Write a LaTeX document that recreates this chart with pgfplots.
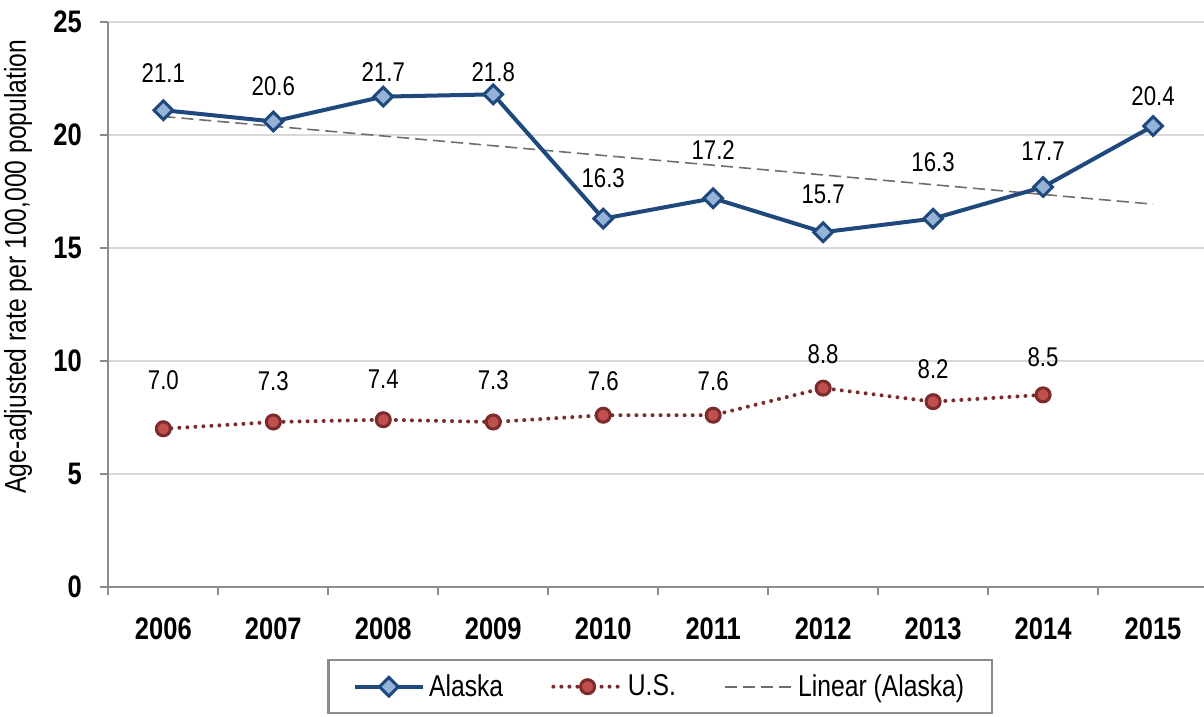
\documentclass[border=0pt]{standalone}
\usepackage{pgfplots}
\usepackage{pgfplotstable}
\pgfplotsset{compat=1.18}
\usepackage{fontspec}
\setmainfont{Liberation Sans}[FakeStretch=0.82]
\definecolor{akline}{HTML}{1F497D}
\definecolor{akfill}{HTML}{95B3D7}
\definecolor{usline}{HTML}{7B2B2B}
\definecolor{usfill}{HTML}{C0504D}
\definecolor{gridc}{HTML}{D9D9D9}
\definecolor{axisc}{HTML}{8C8C8C}
\definecolor{trendc}{HTML}{6E6E6E}
\newcommand\fs[2]{\fontsize{#1}{#2}\selectfont}
\pgfplotsset{
  akstyle/.style={akline, line width=2pt, mark=square*, mark size=3.3pt,
    mark options={rotate=45, fill=akfill, draw=akline, line width=1.5pt, solid}},
  usstyle/.style={usline, line width=2pt, dash pattern=on 0pt off 4pt, line cap=round, mark=*, mark size=3.5pt,
    mark options={fill=usfill, draw=usline, line width=1.5pt, solid}},
  trstyle/.style={trendc, line width=0.8pt, dash pattern=on 6pt off 3pt},
  labstyle/.style={draw=none, mark=none, forget plot, nodes near coords, point meta=explicit symbolic,
    every node near coord/.append style={anchor=center, font=\fs{13.5}{16}, text=black}},
}

% x, value, label position, label text
\pgfplotstableread{
x y ly lab
0 21.1 22.74 21.1
1 20.6 22.15 20.6
2 21.7 22.77 21.7
3 21.8 22.78 21.8
4 16.3 18.08 16.3
5 17.2 19.33 17.2
6 15.7 17.39 15.7
7 16.3 18.79 16.3
8 17.7 19.30 17.7
9 20.4 21.73 20.4
}\alaska

\pgfplotstableread{
x y ly lab
0 7.0 9.15 7.0
1 7.3 9.10 7.3
2 7.4 9.19 7.4
3 7.3 9.15 7.3
4 7.6 9.10 7.6
5 7.6 9.10 7.6
6 8.8 10.30 8.8
7 8.2 9.64 8.2
8 8.5 10.17 8.5
}\us

\pgfplotstableread{
x y
0 20.82
9 16.94
}\trend

\begin{document}
\begin{tikzpicture}
\begin{axis}[
  name=ax,
  width=548pt, height=281.5pt, scale only axis,
  xmin=-0.5, xmax=9.5, ymin=0, ymax=25,
  xtick={0,1,2,3,4,5,6,7,8,9},
  xticklabels={2006,2007,2008,2009,2010,2011,2012,2013,2014,2015},
  minor xtick={-0.5,0.5,1.5,2.5,3.5,4.5,5.5,6.5,7.5,8.5,9.5},
  ytick={0,5,10,15,20,25},
  axis x line*=bottom, axis y line*=left,
  axis line style={axisc, line width=1pt, -},
  ymajorgrids, grid style={gridc, line width=1pt},
  tick align=outside,
  major tick length=4pt, minor tick length=4pt,
  major x tick style={draw=none},
  minor x tick style={axisc, line width=1pt},
  y tick style={axisc, line width=1pt},
  /pgf/number format/assume math mode=true,
  xticklabel style={font=\fs{15.5}{18}\bfseries, yshift=-8pt},
  yticklabel style={font=\fs{15.5}{18}\bfseries, xshift=-5.7pt},
  ylabel={Age-adjusted rate per 100,000 population},
  every axis y label/.style={at={(axis description cs:-0.082,0.567)}, rotate=90, anchor=center, font=\fs{15}{18}},
  legend columns=3,
  legend style={at={(axis description cs:0.502,-0.128)}, anchor=north,
    draw=axisc, line width=1pt, font=\fs{15}{17}, inner xsep=12pt, inner ysep=5pt,
    /tikz/every even column/.append style={column sep=22pt}},
  legend image code/.code={\draw[mark repeat=2,mark phase=2,#1] plot coordinates {(0cm,0cm) (0.6cm,0cm) (1.2cm,0cm)};},
  clip=false,
]
\addplot[trstyle, forget plot] table[x=x,y=y] {\trend};
\addplot[akstyle, forget plot] table[x=x,y=y] {\alaska};
\addplot[usstyle, forget plot] table[x=x,y=y] {\us};
\addplot[labstyle] table[x=x,y=ly,meta=lab] {\alaska};
\addplot[labstyle] table[x=x,y=ly,meta=lab] {\us};

\addlegendimage{akstyle}
\addlegendentry{Alaska}
\addlegendimage{usstyle}
\addlegendentry{U.S.}
\addlegendimage{trstyle}
\addlegendentry{Linear (Alaska)}
\end{axis}
\pgfresetboundingbox
\path ([xshift=-54pt,yshift=-64.5pt]ax.south west) rectangle ([xshift=-2pt,yshift=11pt]ax.north east);
\end{tikzpicture}
\end{document}
